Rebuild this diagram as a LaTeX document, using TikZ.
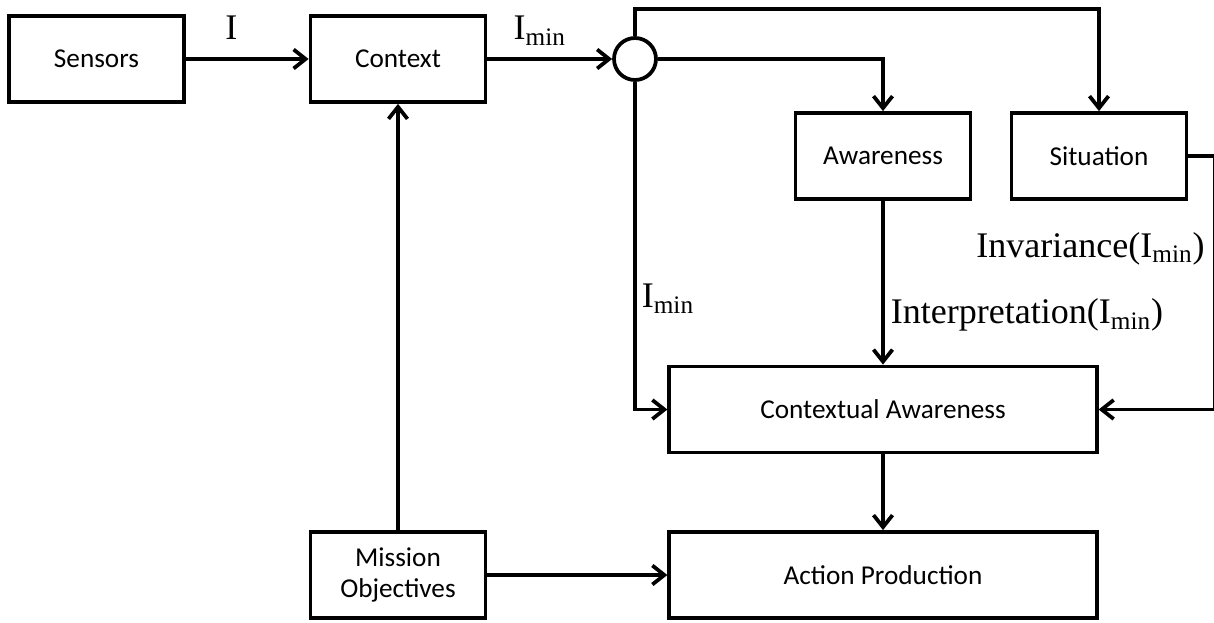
\documentclass[tikz,border=0pt]{standalone}
\usepackage{fontspec}
\setmainfont{Liberation Serif}
\newfontfamily\boxfont{Carlito}
\usetikzlibrary{positioning, arrows.meta, calc}

\begin{document}
\begin{tikzpicture}[>={Straight Barb[length=0.24cm,width=0.38cm]},line width=0.075cm,node distance=2cm,on grid,
	block/.style={draw,rectangle,minimum width=3.5cm,minimum height=1.72cm,align=center,
		font=\boxfont\fontsize{15.5}{18}\selectfont},
	wideblock/.style={block,minimum width=8.55cm},
	lbl/.style={font=\fontsize{20.5}{24}\selectfont,inner sep=0pt}]
	
	\useasboundingbox (0,0) rectangle (24.28,-12.44);
	
	%Blocks
	\node[block] (sensors) at (1.93,-1.18) {Sensors};
	\node[block] (context) [right=6.03cm of sensors] {Context};
	\node[draw,circle,minimum size=0.84cm,inner sep=0pt] (junction) [right=4.74cm of context] {};
	\node[block] (mission) [below=10.32cm of context] {Mission\\Objectives};
	\node[wideblock] (action) [right=9.7cm of mission] {Action Production};
	\node[wideblock] (contextual) [above=3.31cm of action] {Contextual Awareness};
	\node[block] (awareness) [above=5.07cm of contextual] {Awareness};
	\node[block] (situation) [right=4.32cm of awareness] {Situation};
	\coordinate (sitright) at ($(situation.east)+(0.52,0)$);
	
	%Paths
	\draw[->] (sensors) -- node[lbl,pos=0.37,anchor=base,yshift=0.38cm] {I} (context);
	\draw[->] (context) -- node[lbl,pos=0.42,anchor=base,yshift=0.38cm] {I\textsubscript{min}} (junction);
	\draw[->] (junction.east) -| (awareness.north);
	\draw[->] (junction.north) -- ++(0,0.54) -| (situation.north);
	\draw[->] (junction.south) -- node[lbl,pos=0.69,anchor=base west,xshift=0.1cm] {I\textsubscript{min}}
		(junction.south |- contextual.west) -- (contextual.west);
	\draw[->] (awareness) -- node[lbl,pos=0.75,anchor=base west,xshift=0.12cm] {Interpretation(I\textsubscript{min})} (contextual);
	\draw[->] (situation.east) -- (sitright) -- node[lbl,pos=0.4,anchor=base east,xshift=-0.16cm] {Invariance(I\textsubscript{min})}
		(sitright |- contextual.east) -- (contextual.east);
	\draw[->] (contextual) -- (action);
	\draw[->] (mission) -- (action);
	\draw[->] (mission) -- (context);
	
\end{tikzpicture}
\end{document}
